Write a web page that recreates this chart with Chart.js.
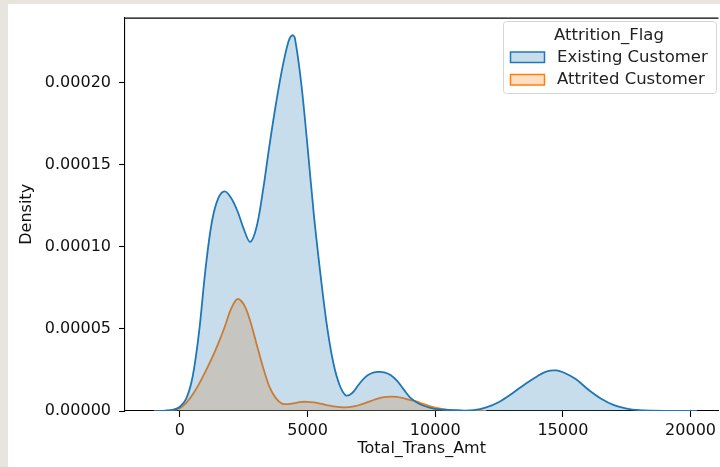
<!DOCTYPE html>
<html>
<head>
<meta charset="utf-8">
<script src="https://cdn.jsdelivr.net/npm/chart.js@4/dist/chart.umd.min.js"></script>
<style>
  html, body { margin: 0; padding: 0; width: 720px; height: 467px; overflow: hidden; background: #e8e5de; }
  #paper { position: absolute; left: 8px; top: 4px; width: 712px; height: 463px; background: #ffffff; }
  #wrap { position: absolute; left: 0; top: 0; width: 720px; height: 467px; }
  canvas { display: block; }
</style>
</head>
<body>
<div id="paper"></div>
<div id="wrap"><canvas id="c" width="720" height="467"></canvas></div>
<script>
// ---- data (density values in units of 1e-5) ----
const existingX = [-1000,-750,-500,-250,0,250,500,750,1000,1250,1500,1750,2000,2250,2500,2750,3000,3250,3500,3750,4000,4250,4400,4500,4750,5000,5250,5500,5750,6000,6250,6500,6750,7000,7250,7500,7750,8000,8250,8500,8750,9000,9250,9500,9750,10000,10500,11000,11500,12000,12500,13000,13500,14000,14250,14500,14750,15000,15500,16000,16500,17000,17500,18000,18500,19000,20250];
const existingY = [0,0.01,0.03,0.08,0.26,0.75,2.1,4.8,8.6,11.5,12.95,13.38,13.0,12.2,11.1,10.3,11.2,13.4,16.1,18.6,20.8,22.5,22.9,22.75,20.0,16.1,11.9,8.4,5.3,3.0,1.6,0.95,1.1,1.6,2.05,2.3,2.38,2.36,2.2,1.85,1.35,0.85,0.55,0.35,0.22,0.13,0.06,0.03,0.05,0.22,0.55,1.05,1.62,2.12,2.34,2.46,2.47,2.36,1.95,1.3,0.75,0.36,0.15,0.05,0.015,0.004,0];
const attritedX = [-1000,-500,0,250,500,750,1000,1250,1500,1750,2000,2250,2500,2750,3000,3250,3500,3750,4000,4250,4500,4750,5000,5250,5500,5750,6000,6250,6500,6750,7000,7250,7500,7750,8000,8250,8500,8750,9000,9250,9500,9750,10000,10500,11000,11500,12000];
const attritedY = [0,0.02,0.18,0.5,1.0,1.65,2.4,3.2,4.1,5.1,6.2,6.82,6.5,5.5,4.1,2.7,1.5,0.8,0.45,0.42,0.48,0.55,0.56,0.52,0.45,0.36,0.28,0.24,0.22,0.26,0.35,0.48,0.62,0.76,0.85,0.88,0.86,0.78,0.68,0.58,0.45,0.32,0.2,0.07,0.02,0.005,0];
const seriesNames = ['Existing Customer', 'Attrited Customer'];
const legendTitle = 'Attrition_Flag';
const xTicks = [0, 5000, 10000, 15000, 20000];
const yTicks = [0, 0.00005, 0.0001, 0.00015, 0.0002];

const BLUE = '#1f77b4', ORANGE = '#ff7f0e';
const BLUE_F = 'rgba(31,119,180,0.25)', ORANGE_F = 'rgba(255,127,14,0.25)';
const FONT = "'DejaVu Sans', sans-serif";

function pts(xs, ys) { return xs.map((x, i) => ({ x: x, y: ys[i] * 1e-5 })); }

const legendPlugin = {
  id: 'mplLegend',
  afterDraw(chart) {
    const ctx = chart.ctx;
    const a = chart.chartArea;
    ctx.save();
    // top spine
    ctx.strokeStyle = '#000';
    ctx.lineWidth = 1.1;
    ctx.beginPath();
    ctx.moveTo(a.left, a.top + 0.5);
    ctx.lineTo(a.right, a.top + 0.5);
    ctx.stroke();
    // legend box
    const bx = 503.5, by = 21.5, bw = 213, bh = 72, r = 3;
    ctx.beginPath();
    ctx.moveTo(bx + r, by);
    ctx.lineTo(bx + bw - r, by);
    ctx.quadraticCurveTo(bx + bw, by, bx + bw, by + r);
    ctx.lineTo(bx + bw, by + bh - r);
    ctx.quadraticCurveTo(bx + bw, by + bh, bx + bw - r, by + bh);
    ctx.lineTo(bx + r, by + bh);
    ctx.quadraticCurveTo(bx, by + bh, bx, by + bh - r);
    ctx.lineTo(bx, by + r);
    ctx.quadraticCurveTo(bx, by, bx + r, by);
    ctx.closePath();
    ctx.fillStyle = 'rgba(255,255,255,0.8)';
    ctx.fill();
    ctx.strokeStyle = '#d6d6d6';
    ctx.lineWidth = 1;
    ctx.stroke();
    // title
    ctx.fillStyle = '#222';
    ctx.font = '16.5px ' + FONT;
    ctx.textAlign = 'center';
    ctx.textBaseline = 'middle';
    ctx.fillText(legendTitle, 609, 36);
    // entries
    const rows = [
      { y: 52, fill: BLUE_F, stroke: BLUE, label: seriesNames[0], ty: 57.5 },
      { y: 74.5, fill: ORANGE_F, stroke: ORANGE, label: seriesNames[1], ty: 80 }
    ];
    rows.forEach(rw => {
      ctx.fillStyle = '#fff';
      ctx.fillRect(510.5, rw.y, 34, 10.5);
      ctx.fillStyle = rw.fill;
      ctx.fillRect(510.5, rw.y, 34, 10.5);
      ctx.strokeStyle = rw.stroke;
      ctx.lineWidth = 1.5;
      ctx.strokeRect(510.5, rw.y, 34, 10.5);
      ctx.fillStyle = '#222';
      ctx.textAlign = 'left';
      ctx.fillText(rw.label, 557, rw.ty);
    });
    ctx.restore();
  }
};

new Chart(document.getElementById('c'), {
  type: 'line',
  data: {
    datasets: [
      {
        label: seriesNames[0],
        data: pts(existingX, existingY),
        borderColor: BLUE,
        backgroundColor: BLUE_F,
        borderWidth: 1.8,
        fill: 'origin',
        pointRadius: 0,
        tension: 0.35
      },
      {
        label: seriesNames[1],
        data: pts(attritedX, attritedY),
        borderColor: ORANGE,
        backgroundColor: ORANGE_F,
        borderWidth: 1.8,
        fill: 'origin',
        pointRadius: 0,
        tension: 0.35
      }
    ]
  },
  options: {
    responsive: false,
    animation: false,
    events: [],
    layout: { padding: { top: 15, right: 0, left: 0, bottom: 0 } },
    plugins: { legend: { display: false }, tooltip: { enabled: false } },
    scales: {
      x: {
        type: 'linear',
        min: -2150,
        max: 21092,
        afterFit(s) { s.height = 56; },
        afterBuildTicks(s) { s.ticks = xTicks.map(v => ({ value: v })); },
        border: { display: true, color: '#000', width: 1.1 },
        grid: { drawOnChartArea: false, drawTicks: true, tickLength: 6, color: '#000', tickWidth: 1.1 },
        ticks: { color: '#111', font: { family: FONT, size: 16 }, padding: 4, maxRotation: 0, callback: v => String(v) },
        title: { display: true, text: 'Total_Trans_Amt', color: '#111', font: { family: FONT, size: 16 }, padding: { top: 0, bottom: 9 } }
      },
      y: {
        type: 'linear',
        min: 0,
        max: 0.0002397,
        afterFit(s) { s.width = 125; },
        afterBuildTicks(s) { s.ticks = yTicks.map(v => ({ value: v })); },
        border: { display: true, color: '#000', width: 1.1 },
        grid: { drawOnChartArea: false, drawTicks: true, tickLength: 6, color: '#000', tickWidth: 1.1 },
        ticks: { color: '#111', font: { family: FONT, size: 16 }, padding: 8, callback: v => Number(v).toFixed(5) },
        title: { display: true, text: 'Density', color: '#111', font: { family: FONT, size: 16 }, padding: { top: 17, bottom: 0 } }
      }
    }
  },
  plugins: [legendPlugin]
});
</script>
</body>
</html>
